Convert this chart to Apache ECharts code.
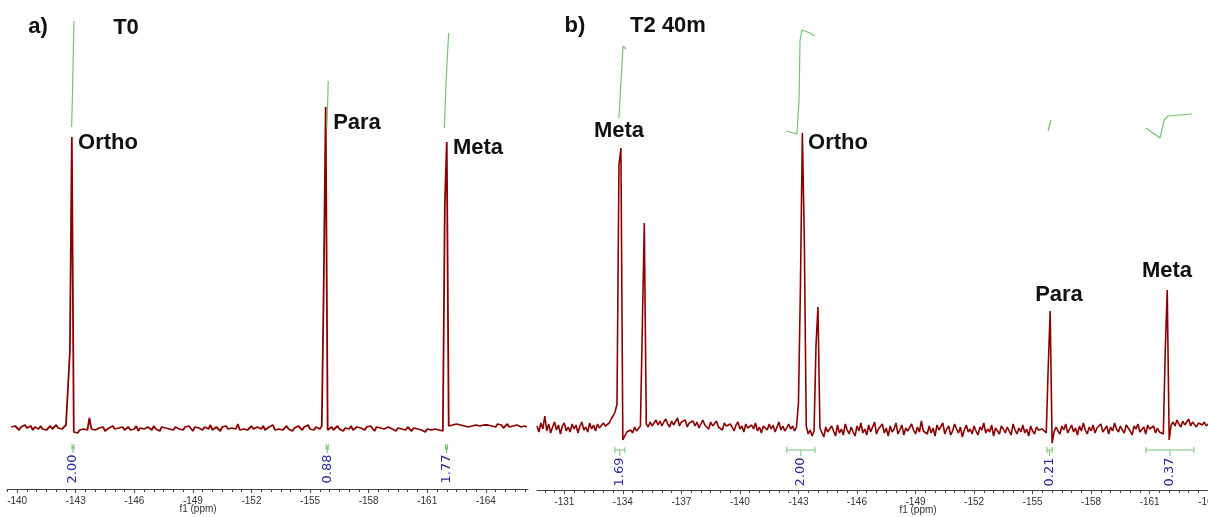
<!DOCTYPE html>
<html><head><meta charset="utf-8">
<script src="https://cdn.jsdelivr.net/npm/echarts@6/dist/echarts.min.js"></script>
<style>html,body{margin:0;padding:0;background:#fff;overflow:hidden}#c{width:1208px;height:517px}</style>
</head><body><div id="c"></div><script>
// ---- Panel a) T0 : 19F spectrum, sampled every 0.1 ppm from -139.7 ppm ----
const ppmStartA = -139.7, ppmStepA = 0.1;
const intensityA = [
1,-1,2,0,-2,1,-1,3,0,-1,2,-2,1,0,-1,2,-1,1,-2,0,
2,-1,1,3,0,2,-1,1,3,5,76,291,-4,-3,-5,-2,-4,-1,-3,-2,
10,-1,-2,-2,-3,0,-2,1,-3,-1,0,-2,2,-1,-3,0,-1,1,-2,0,
1,-2,0,-1,2,-3,0,1,-1,-2,1,0,-2,2,-1,0,-3,1,-1,0,
2,-1,0,-2,1,3,-1,0,-2,1,-1,2,0,-3,1,-1,0,2,-2,1,
0,-1,3,-2,0,1,-1,-3,1,0,2,-1,-2,0,1,-1,4,-2,0,-1,
1,-2,0,2,-1,-3,1,0,-1,2,-2,0,1,-1,3,-2,0,-1,1,-2,
0,2,-1,1,-3,0,-1,2,0,-2,1,-1,3,-1,0,-2,1,0,-1,2,
143,321,-2,-1,1,-2,0,2,-1,1,-3,0,1,-1,2,-2,0,1,-1,0,
0,-2,1,-1,2,0,-3,1,-1,0,2,-1,-2,1,0,-1,1,-3,0,2,
-1,0,-2,1,-1,-3,0,-2,-1,-3,-2,0,-4,-1,-3,-2,-4,-1,-3,-2,
-4,-3,223,286,2,4,3,1,4,2,3,5,2,4,1,3,2,4,3,1,
2,4,3,1,3,5,2,3,1,4,2,3,0,2,4,1,3,2,0,3,2,1,3,2,1
];
// ---- Panel b) T2 40m : sampled every 0.1 ppm from -129.6 ppm ----
const ppmStartB = -129.6, ppmStepB = 0.1;
const intensityB = [
2,-4,5,-1,12,-3,4,-5,1,6,-2,3,-6,2,5,-3,1,-4,4,-1,
3,-5,2,6,-2,1,-4,5,-1,3,-3,4,0,-2,5,2,3,5,9,12,
16,24,263,280,-12,-8,-4,-6,-2,-5,1,-3,-1,2,2,205,4,1,6,2,
5,8,3,7,2,6,9,4,1,7,3,5,10,2,6,4,8,1,5,3,
7,2,6,0,4,8,3,5,-1,6,2,4,7,1,3,-2,5,2,0,4,
1,-3,3,6,-1,2,-4,4,0,-2,3,-1,5,-3,1,-5,2,0,-2,4,
-1,3,-4,1,6,-2,2,-3,0,4,-1,2,-3,1,25,140,295,190,2,-6,
-2,-8,-3,83,121,0,-2,-9,1,-4,-6,2,-3,-8,3,-5,-1,-7,4,-2,
-6,1,-4,-8,2,-3,5,-5,-1,-7,3,-4,-2,6,-6,-1,-3,4,-5,0,
-8,2,-4,-1,5,-6,-2,3,-7,0,-3,-5,4,-2,-6,1,-4,7,-3,-1,
-6,2,-5,0,-8,3,-2,-4,5,-6,-1,2,-7,-3,4,-1,-5,1,-9,-2,
3,-4,-1,-6,2,-3,-7,1,-2,5,-5,-1,-4,3,-8,0,-3,-6,2,-1,
-5,1,-3,-7,4,-2,-6,0,-4,3,-5,-1,-8,2,-3,-6,1,-2,-4,-1,
-3,-5,60,117,-15,-4,1,-3,-6,2,-2,4,-5,-1,3,-4,0,-7,2,-3,
5,-2,-6,1,-3,3,-5,0,-1,4,-4,-2,2,-6,1,-3,5,-1,-4,2,
-2,-5,3,0,-3,-7,2,-1,4,-4,-2,1,-6,3,-1,-3,2,-5,0,-4,
-2,-6,78,138,-12,3,6,2,8,4,1,7,3,5,9,2,6,4,1,5,7,3,6,2,4
];
// integral curves [ppm, level]
const integralCurvesA = [
  [[-142.79,301],[-142.84,340],[-142.88,380],[-142.91,407]],
  [[-155.86,301],[-155.90,325],[-155.93,347]],
  [[-161.88,300],[-161.95,340],[-162.03,372],[-162.10,395]]
];
const integralCurvesB = [
  [[-133.80,310],[-133.90,345],[-134.01,382],[-134.16,379]],
  [[-142.36,297],[-142.92,294],[-143.03,328],[-143.08,388],[-143.18,398],[-143.59,395],[-143.85,392]],
  [[-155.79,297],[-155.94,308]],
  [[-160.81,300],[-161.53,290],[-161.74,308],[-161.94,312],[-163.17,314]]
];
// integration regions [from ppm, to ppm] and values
const integralRangesA = [[-142.81,-142.91],[-155.83,-155.93],[-161.94,-162.04]];
const integralValuesA = ['2.00','0.88','1.77'];
const integralRangesB = [[-133.59,-134.10],[-142.40,-143.85],[-155.74,-156.00],[-160.81,-163.27]];
const integralValuesB = ['1.69','2.00','0.21','0.37'];
// axis tick labels (ppm)
const tickLabelsA = [-140,-143,-146,-149,-152,-155,-158,-161,-164];
const tickLabelsB = [-131,-134,-137,-140,-143,-146,-149,-152,-155,-158,-161,-164];

function build(start, step, vals){ return vals.map((v,i)=>[+(start - i*step).toFixed(2), v]); }
function minorTicks(a,b){ const r=[]; for(let v=a; v>=b; v-=0.5) r.push(+v.toFixed(1)); return r; }

const RED = '#8b0000', GREEN = '#74c474', BLUE = '#2b2b9c';
const axisColor = '#444';

function mainX(grid, min, max, labels){
  return {type:'value', gridIndex:grid, inverse:true, min:min, max:max, position:'bottom',
    axisLine:{show:true, onZero:false, lineStyle:{color:axisColor, width:1}},
    axisTick:{show:true, customValues:labels, length:4, lineStyle:{color:axisColor}},
    axisLabel:{show:true, customValues:labels, color:'#333', fontSize:10, fontFamily:'Liberation Sans', margin:7, showMinLabel:true, showMaxLabel:true},
    splitLine:{show:false}};
}
function minorX(grid, min, max, ticks){
  return {type:'value', gridIndex:grid, inverse:true, min:min, max:max, position:'bottom', offset:0,
    axisLine:{show:false, onZero:false}, axisTick:{show:true, customValues:ticks, length:3, lineStyle:{color:axisColor}},
    axisLabel:{show:false}, splitLine:{show:false}};
}
function bracketSeries(xi, yi, ranges, values, yv){
  return {type:'custom', xAxisIndex:xi, yAxisIndex:yi, silent:true, clip:false,
    data: ranges.map(r=>[r[0], r[1], yv]),
    renderItem:function(params, api){
      const r = ranges[params.dataIndex];
      const p1 = api.coord([r[0], yv]), p2 = api.coord([r[1], yv]);
      const y = p1[1], cx = (p1[0]+p2[0])/2;
      const st = {stroke:GREEN, lineWidth:1};
      return {type:'group', children:[
        {type:'line', shape:{x1:p1[0],y1:y,x2:p2[0],y2:y}, style:st},
        {type:'line', shape:{x1:p1[0],y1:y-3,x2:p1[0],y2:y+3}, style:st},
        {type:'line', shape:{x1:p2[0],y1:y-3,x2:p2[0],y2:y+3}, style:st},
        {type:'line', shape:{x1:cx,y1:y,x2:cx,y2:y+6}, style:st},
        {type:'text', x:cx, y:y+22, rotation:Math.PI/2,
          style:{text:values[params.dataIndex], fill:BLUE, font:'13px "DejaVu Sans"', align:'center', verticalAlign:'middle'}}
      ]};
    }};
}
function lineSeries(xi, yi, data, color, w){
  return {type:'line', xAxisIndex:xi, yAxisIndex:yi, data:data, showSymbol:false, symbol:'none', silent:true,
    lineStyle:{color:color, width:w}, itemStyle:{color:color}, animation:false, sampling:null};
}

const series = [
  lineSeries(0,0,build(ppmStartA, ppmStepA, intensityA), RED, 1.8),
  lineSeries(2,1,build(ppmStartB, ppmStepB, intensityB), RED, 1.6)
];
integralCurvesA.forEach(c=>series.push(lineSeries(0,0,c,GREEN,1.2)));
integralCurvesB.forEach(c=>series.push(lineSeries(2,1,c,GREEN,1.2)));
series.push(bracketSeries(0,0,integralRangesA,integralValuesA,-19));
series.push(bracketSeries(2,1,integralRangesB,integralValuesB,-22));

const big = 'bold 22px "Liberation Sans", Arial, sans-serif';
function txt(t,x,y,font,fill){ return {type:'text', x:x, y:y, silent:true, style:{text:t, font:font, fill:fill, align:'center', verticalAlign:'middle'}}; }

const chart = echarts.init(document.getElementById('c'), null, {renderer:'canvas'});
chart.setOption({
  animation:false,
  backgroundColor:'#fff',
  grid:[{left:7, top:10, width:521, height:479, outerBoundsMode:'none', containLabel:false},
        {left:537, top:10, width:679, height:480, outerBoundsMode:'none', containLabel:false}],
  xAxis:[mainX(0,-166.16,-139.48,tickLabelsA), minorX(0,-166.16,-139.48,minorTicks(-139.5,-166)),
         mainX(1,-164.40,-129.60,tickLabelsB), minorX(1,-164.40,-129.60,minorTicks(-130,-164))],
  yAxis:[{type:'value', gridIndex:0, min:-61, max:418, show:false},
         {type:'value', gridIndex:1, min:-62, max:418, show:false}],
  series: series,
  graphic: [
    txt('a)',38,27,big,'#111'), txt('T0',126,28,big,'#111'),
    txt('b)',575,26,big,'#111'), txt('T2 40m',668,26,big,'#111'),
    txt('Ortho',108,143,big,'#111'), txt('Para',357,123,big,'#111'), txt('Meta',478,148,big,'#111'),
    txt('Meta',619,131,big,'#111'), txt('Ortho',838,143,big,'#111'), txt('Para',1059,295,big,'#111'), txt('Meta',1167,271,big,'#111'),
    txt('f1 (ppm)',198,509,'10px "Liberation Sans"','#333'), txt('f1 (ppm)',918,510,'10px "Liberation Sans"','#333')
  ]
});
</script></body></html>
